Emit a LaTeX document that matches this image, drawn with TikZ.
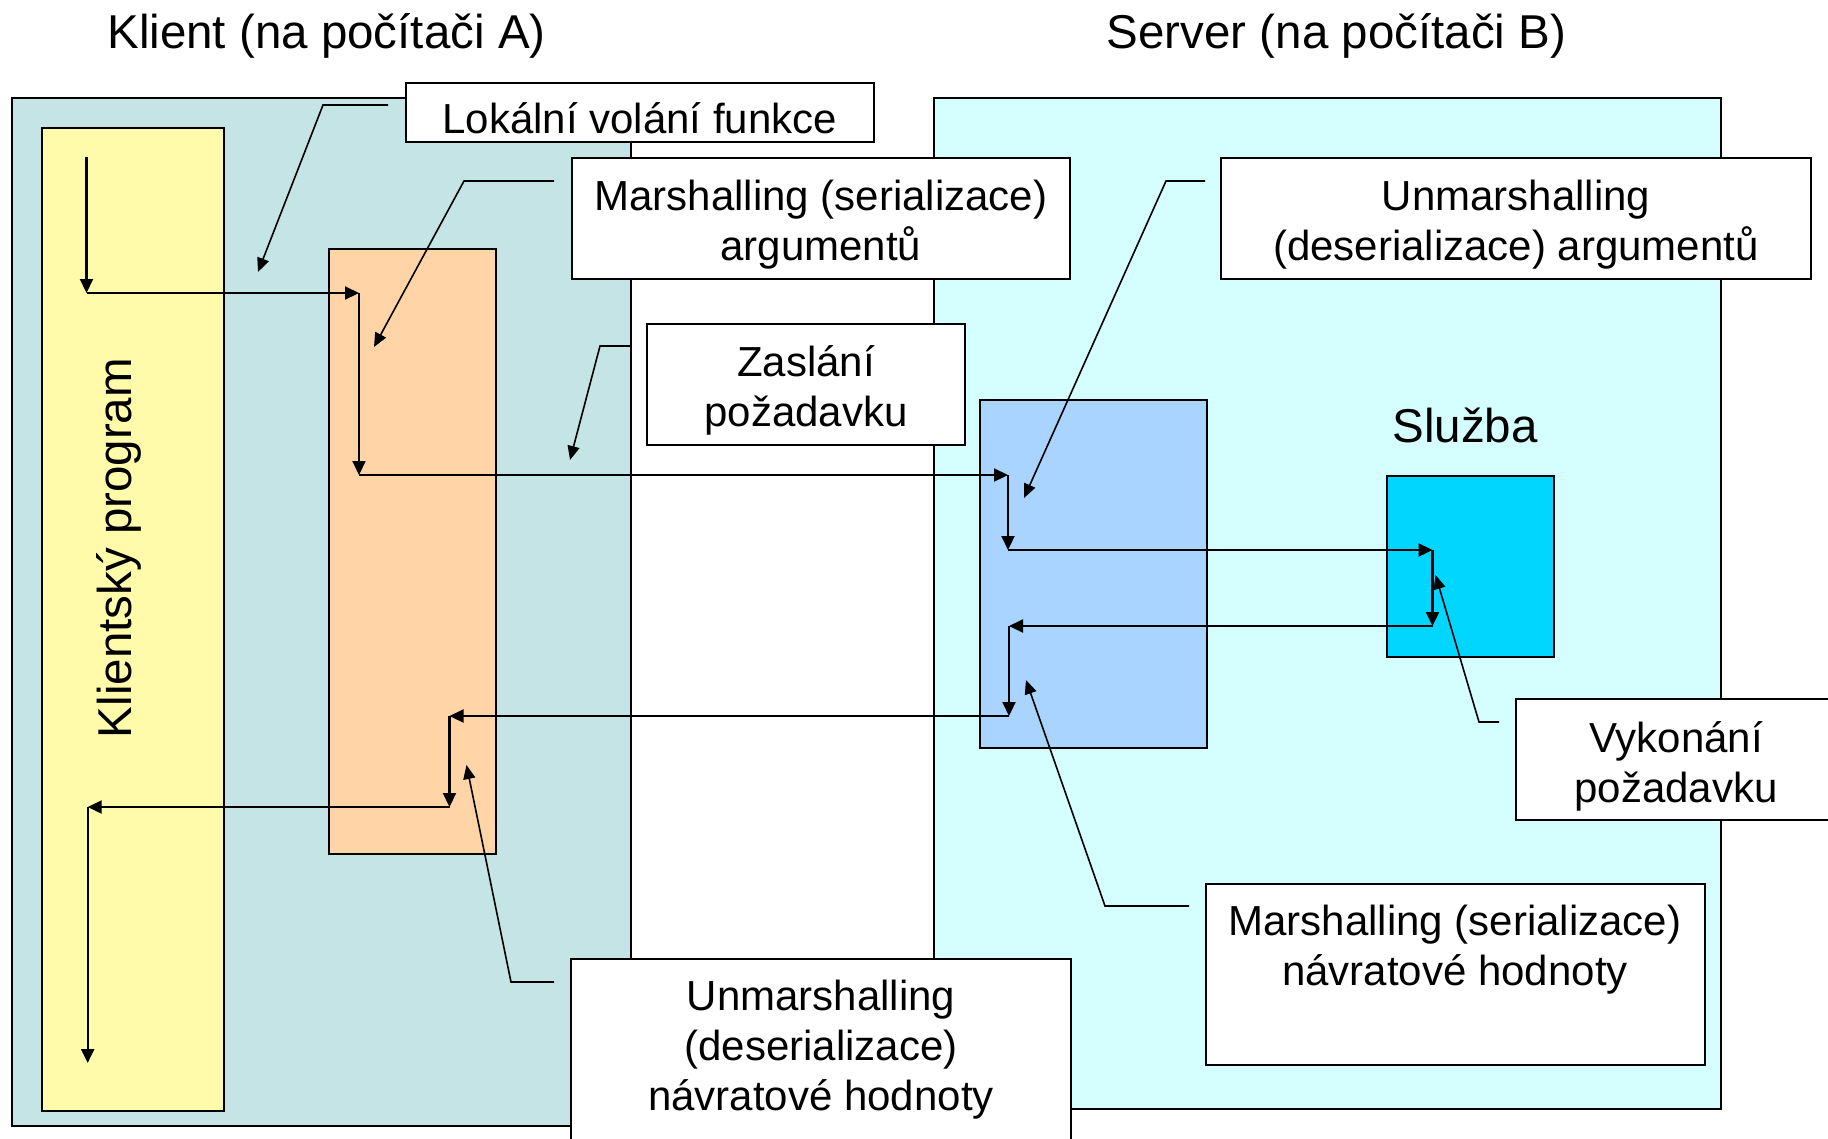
\documentclass[tikz,border=0pt]{standalone}
\usepackage{fontspec}
\setmainfont{Liberation Sans}
\usetikzlibrary{arrows.meta}
\definecolor{clientbg}{HTML}{C4E4E6}
\definecolor{serverbg}{HTML}{D4FEFF}
\definecolor{yel}{HTML}{FFFBAA}
\definecolor{peach}{HTML}{FFD5A8}
\definecolor{blu}{HTML}{A8D4FF}
\definecolor{svc}{HTML}{00D6FF}
\begin{document}
\begin{tikzpicture}[x=1pt,y=-1pt,
  region/.style={draw=black, line width=2pt, inner sep=0pt, anchor=north west},
  lbl/.style={draw=black, fill=white, line width=2pt, inner sep=0pt, anchor=north west},
  txt/.style={font=\fontsize{42}{50}\selectfont, align=center, inner sep=0pt},
  flow/.style={line width=2.2pt, -{Triangle[length=14pt,width=13pt]}},
  leader/.style={line width=1.6pt, -{Triangle[length=14pt,width=12pt]}},
  big/.style={font=\fontsize{47.5}{55}\selectfont, inner sep=0pt}]
\useasboundingbox (0,0) rectangle (1828,1138);
\clip (0,0) rectangle (1828,1138);
\fill[white] (0,0) rectangle (1828,1138);

% regions
\node[region, fill=serverbg, minimum width=786.5, minimum height=1011] (server) at (933,97) {};
\node[region, fill=clientbg, minimum width=619, minimum height=1028] (client) at (11,97) {};
\node[region, fill=yel, minimum width=182, minimum height=983] (prog) at (41,127) {};
\node[region, fill=peach, minimum width=167, minimum height=605] (stubc) at (328,248) {};
\node[region, fill=blu, minimum width=227, minimum height=348] (stubs) at (979,399) {};
\node[region, fill=svc, minimum width=167, minimum height=181] (svc) at (1386,475) {};

% titles
\node[big, anchor=base] (tclient) at (326.5,48.5) {Klient (na počítači A)};
\node[big, anchor=base] (tserver) at (1336.5,48.5) {Server (na počítači B)};
\node[big, anchor=base] (tsvc) at (1465,442) {Služba};
\node[big, anchor=base, rotate=90] (tprog) at (131,548) {Klientský program};

% label boxes
\node[lbl, minimum width=468.5, minimum height=59.5,
  label={[txt, yshift=-6pt]center:{Lokální volání funkce}}] (lokal) at (404.5,81.6) {};
\node[lbl, minimum width=498.5, minimum height=121,
  label={[txt, yshift=-6pt]center:{Marshalling (serializace)\\argumentů}}] (marsh) at (570.6,157) {};
\node[lbl, minimum width=318, minimum height=121,
  label={[txt, yshift=-6pt]center:{Zaslání\\požadavku}}] (zasl) at (646,323) {};
\node[lbl, minimum width=590, minimum height=121,
  label={[txt, yshift=-6pt]center:{Unmarshalling\\(deserializace) argumentů}}] (unmarsh) at (1220,157) {};
\node[lbl, minimum width=320, minimum height=121,
  label={[txt, yshift=-7pt]center:{Vykonání\\požadavku}}] (vyk) at (1515,698) {};
\node[lbl, minimum width=499, minimum height=181.5] (marshret) at (1205,882.5) {};
\node[txt, anchor=north] (marshrett) at (1455,905) {Marshalling (serializace)\\návratové hodnoty};
\node[lbl, minimum width=500, minimum height=182,
  label={[txt]center:{Unmarshalling\\(deserializace)\\návratové hodnoty}}] (unmarshret) at (570,958) {};

% flow corners
\coordinate (p1) at (86.5,157);
\coordinate (p2) at (86.5,293);
\coordinate (p3) at (359,293);
\coordinate (p4) at (359,475);
\coordinate (p5) at (1008,475);
\coordinate (p6) at (1008,550);
\coordinate (p7) at (1432.5,550);
\coordinate (p8) at (1432.5,626);
\coordinate (p9) at (1009,626);
\coordinate (p10) at (1009,716);
\coordinate (p11) at (449.5,716);
\coordinate (p12) at (449.5,807);
\coordinate (p13) at (87.7,807);
\coordinate (p14) at (87.7,1063);
\draw[flow] (p1) -- (p2);
\draw[flow] (p2) -- (p3);
\draw[flow] (p3) -- (p4);
\draw[flow] (p4) -- (p5);
\draw[flow] (p5) -- (p6);
\draw[flow] (p6) -- (p7);
\draw[flow] (p7) -- (p8);
\draw[flow] (p8) -- (p9);
\draw[flow] (p9) -- (p10);
\draw[flow] (p10) -- (p11);
\draw[flow] (p11) -- (p12);
\draw[flow] (p12) -- (p13);
\draw[flow] (p13) -- (p14);

% leaders
\coordinate (l1s) at (388,105);   \coordinate (l1k) at (323,105);   \coordinate (l1t) at (258,272);
\coordinate (l2s) at (554,181);   \coordinate (l2k) at (464,181);   \coordinate (l2t) at (374,347);
\coordinate (l3s) at (630,346);   \coordinate (l3k) at (600,346);   \coordinate (l3t) at (570,460);
\coordinate (l4s) at (1205,181);  \coordinate (l4k) at (1166,181);  \coordinate (l4t) at (1024,498);
\coordinate (l5s) at (1499,722);  \coordinate (l5k) at (1479,722);  \coordinate (l5t) at (1435.5,575);
\coordinate (l6s) at (1189,906);  \coordinate (l6k) at (1105,906);  \coordinate (l6t) at (1026,680);
\coordinate (l7s) at (554,982);   \coordinate (l7k) at (511,982);   \coordinate (l7t) at (466.5,765);
\draw[leader] (l1s) -- (l1k) -- (l1t);
\draw[leader] (l2s) -- (l2k) -- (l2t);
\draw[leader] (l3s) -- (l3k) -- (l3t);
\draw[leader] (l4s) -- (l4k) -- (l4t);
\draw[leader] (l5s) -- (l5k) -- (l5t);
\draw[leader] (l6s) -- (l6k) -- (l6t);
\draw[leader] (l7s) -- (l7k) -- (l7t);
\end{tikzpicture}
\end{document}
